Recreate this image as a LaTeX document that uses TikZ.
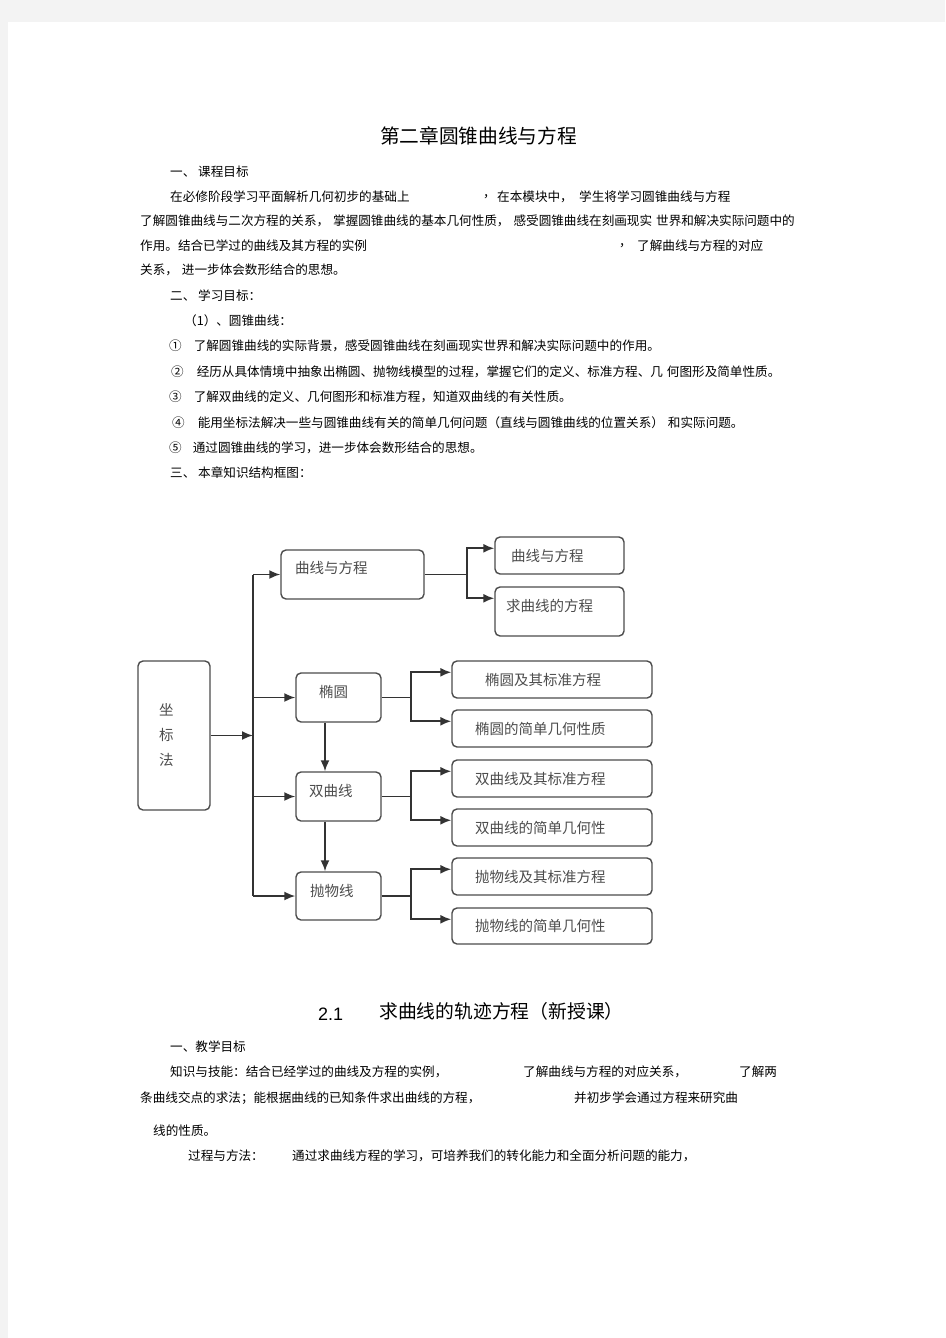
\documentclass[tikz,border=0pt]{standalone}
\usepackage{fontspec}
\usetikzlibrary{arrows.meta}
\newfontfamily\cjk{Noto Sans CJK SC}
\newfontfamily\arialfont{Liberation Sans}
\newcommand\bodytxt{\cjk\fontsize{12.6}{15}\selectfont}
\newcommand\diagtxt{\cjk\fontsize{14.5}{25}\selectfont}
\definecolor{pagegray}{HTML}{F3F3F3}
\tikzstyle{txt} = [anchor=west, inner sep=0pt, font=\bodytxt]
\tikzstyle{topic} = [draw=black!70, line width=1.4pt, rounded corners=5pt, text=black!70,
font=\diagtxt, align=left, inner ysep=0pt, inner xsep=14pt, text width=57pt, minimum height=49pt]
\tikzstyle{lifted} = [text height=12pt, text depth=12pt]
\tikzstyle{leaf} = [draw=black!70, line width=1.4pt, rounded corners=5pt, text=black!70,
font=\diagtxt, align=left, inner ysep=0pt, inner xsep=23pt, text width=154pt, minimum height=37pt]
\tikzstyle{tline} = [draw=black!80, line width=1.8pt]
\tikzstyle{tedge} = [draw=black!80, line width=1.8pt, -{Latex[length=11pt,width=9pt]}]

\begin{document}
\begin{tikzpicture}[x=1pt, y=-1pt]
\useasboundingbox (0,0) rectangle (945,1338);
\fill[pagegray] (0,0) rectangle (945,22);
\fill[pagegray] (0,22) rectangle (8,1338);

% chapter heading and aims =============================
\node[txt, anchor=center, font=\cjk\fontsize{19.7}{22}\selectfont] (title) at (478.5,136) {第二章圆锥曲线与方程};

\node[txt] (h1) at (170,172) {一、 课程目标};
\node[txt] (p1a) at (170,197) {在必修阶段学习平面解析几何初步的基础上};
\node[txt] (p1b) at (483,197) {，};
\node[txt] (p1c) at (497,197) {在本模块中，};
\node[txt] (p1d) at (579,197) {学生将学习圆锥曲线与方程};
\node[txt] (p2) at (140,221) {了解圆锥曲线与二次方程的关系，\hspace{4pt}掌握圆锥曲线的基本几何性质，\hspace{4pt}感受圆锥曲线在刻画现实\hspace{4pt}世界和解决实际问题中的};
\node[txt] (p3a) at (140,246) {作用。结合已学过的曲线及其方程的实例};
\node[txt] (p3b) at (619,246) {，};
\node[txt] (p3c) at (637,246) {了解曲线与方程的对应};
\node[txt] (p4) at (140,270) {关系，\hspace{4pt}进一步体会数形结合的思想。};

\node[txt] (h2) at (170,296) {二、 学习目标：};
\node[txt] (h2a) at (184,321) {（1）、圆锥曲线：};
\node[txt] (o1) at (169,346) {①\hspace{12pt}了解圆锥曲线的实际背景，感受圆锥曲线在刻画现实世界和解决实际问题中的作用。};
\node[txt] (o2) at (171,372) {②\hspace{13pt}经历从具体情境中抽象出椭圆、抛物线模型的过程，掌握它们的定义、标准方程、几\hspace{4pt}何图形及简单性质。};
\node[txt] (o3) at (169,397) {③\hspace{12pt}了解双曲线的定义、几何图形和标准方程，知道双曲线的有关性质。};
\node[txt] (o4) at (172,423) {④\hspace{13pt}能用坐标法解决一些与圆锥曲线有关的简单几何问题（直线与圆锥曲线的位置关系）\hspace{4pt}和实际问题。};
\node[txt] (o5) at (169,448) {⑤\hspace{11pt}通过圆锥曲线的学习，进一步体会数形结合的思想。};
\node[txt] (h3) at (170,473) {三、 本章知识结构框图：};

% structure chart =============================
\node[topic, text width=30pt, inner xsep=21pt, minimum height=149pt] (zb) at (174,735.5) {坐\\标\\法};

\node[topic, text width=115pt, text height=12pt, text depth=14pt] (c1) at (352.5,574.5) {曲线与方程};
\node[topic, lifted, text width=39pt, inner xsep=23pt] (c2) at (338.5,697.5) {椭圆};
\node[topic, lifted, text width=59pt, inner xsep=13pt] (c3) at (338.5,796.5) {双曲线};
\node[topic, lifted, minimum height=48pt] (c4) at (338.5,896) {抛物线};

\coordinate (tk) at (253,735.5);
\draw[tedge] (zb.east) -- (tk);
\draw[tline] (c1.west -| tk) -- (c4.west -| tk);
\draw[tedge] (c1.west -| tk) -- (c1.west);
\draw[tedge] (c2.west -| tk) -- (c2.west);
\draw[tedge] (c3.west -| tk) -- (c3.west);
\draw[tedge] (c4.west -| tk) -- (c4.west);

\draw[tedge] ([xshift=-13.5pt]c2.south) -- ([xshift=-13.5pt]c3.north);
\draw[tedge] ([xshift=-13.5pt]c3.south) -- ([xshift=-13.5pt]c4.north);

% leaves
\node[leaf, text width=97pt, inner xsep=16pt] (d1) at (559.5,555.5) {曲线与方程};
\node[leaf, lifted, text width=107pt, inner xsep=11pt, minimum height=49pt] (d2) at (559.5,611.5) {求曲线的方程};
\node[leaf, text width=134pt, inner xsep=33pt] (e1) at (552,679.5) {椭圆及其标准方程};
\node[leaf] (e2) at (552,728.5) {椭圆的简单几何性质};
\node[leaf] (f1) at (552,778.5) {双曲线及其标准方程};
\node[leaf] (f2) at (552,827.5) {双曲线的简单几何性};
\node[leaf] (g1) at (552,876.5) {抛物线及其标准方程};
\node[leaf, minimum height=36pt] (g2) at (552,926) {抛物线的简单几何性};

\draw[tline] (c1.east) -- ++(42,0) coordinate (s1);
\draw[tedge] (s1) |- ([yshift=-12pt]d1.north west);
\draw[tedge] (s1) |- ([yshift=-12pt]d2.north west);

\draw[tline] (c2.east) -- ++(29,0) coordinate (s2);
\draw[tedge] (s2) |- ([yshift=-12pt]e1.north west);
\draw[tedge] (s2) |- ([yshift=-12pt]e2.north west);

\draw[tline] (c3.east) -- ++(29,0) coordinate (s3);
\draw[tedge] (s3) |- ([yshift=-12pt]f1.north west);
\draw[tedge] (s3) |- ([yshift=-12pt]f2.north west);

\draw[tline] (c4.east) -- ++(29,0) coordinate (s4);
\draw[tedge] (s4) |- ([yshift=-12pt]g1.north west);
\draw[tedge] (s4) |- ([yshift=-12pt]g2.north west);

% section 2.1 =============================
\node[txt, font=\arialfont\fontsize{18}{20}\selectfont] (num) at (318,1014) {2.1};
\node[txt, font=\cjk\fontsize{18.8}{21}\selectfont] (sub) at (379,1011) {求曲线的轨迹方程（新授课）};
\node[txt] (h4) at (170,1047) {一、教学目标};
\node[txt] (k1a) at (170,1072) {知识与技能：结合已经学过的曲线及方程的实例，};
\node[txt] (k1b) at (523,1072) {了解曲线与方程的对应关系，};
\node[txt] (k1c) at (739,1072) {了解两};
\node[txt] (k2a) at (140,1098) {条曲线交点的求法；能根据曲线的已知条件求出曲线的方程，};
\node[txt] (k2b) at (574,1098) {并初步学会通过方程来研究曲};
\node[txt] (k3) at (153,1131) {线的性质。};
\node[txt] (m1a) at (188,1156) {过程与方法：};
\node[txt] (m1b) at (292,1156) {通过求曲线方程的学习，可培养我们的转化能力和全面分析问题的能力，};

\end{tikzpicture}
\end{document}
